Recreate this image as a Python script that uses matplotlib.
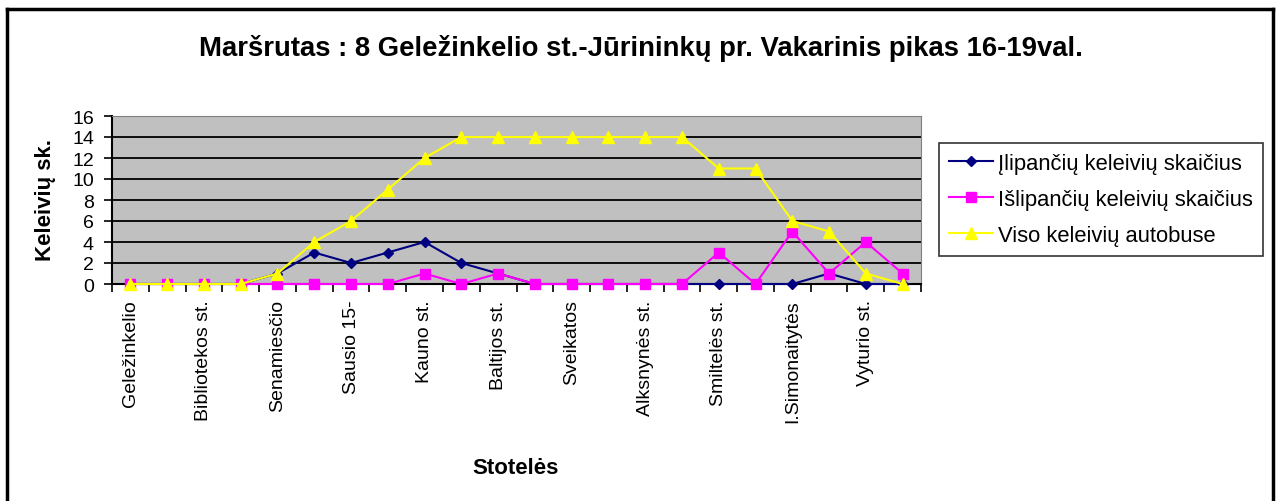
import matplotlib
matplotlib.use("Agg")
import matplotlib.pyplot as plt
from matplotlib.lines import Line2D
import numpy as np

plt.rcParams['font.family'] = ['Liberation Sans', 'DejaVu Sans']

# every other stop is labelled on the axis
stop_labels = ["Geležinkelio", "Bibliotekos st.", "Senamiesčio", "Sausio 15-",
               "Kauno st.", "Baltijos st.", "Sveikatos", "Alksnynės st.",
               "Smiltelės st.", "I.Simonaitytės", "Vyturio st."]

boarding = [0, 0, 0, 0, 1, 3, 2, 3, 4, 2, 1, 0, 0, 0, 0, 0, 0, 0, 0, 1, 0, 0]
alighting = [0, 0, 0, 0, 0, 0, 0, 0, 1, 0, 1, 0, 0, 0, 0, 0, 3, 0, 5, 1, 4, 1]
on_bus = [0, 0, 0, 0, 1, 4, 6, 9, 12, 14, 14, 14, 14, 14, 14, 14, 11, 11, 6, 5, 1, 0]

series_names = ["Įlipančių keleivių skaičius", "Išlipančių keleivių skaičius",
                "Viso keleivių autobuse"]

W, H = 1283, 502
fig = plt.figure(figsize=(W / 100, H / 100), dpi=100)

ax = fig.add_axes([112 / W, 1 - 285 / H, (921 - 112) / W, (285 - 117) / H])
ax.set_facecolor('#C0C0C0')

x = np.arange(len(on_bus))
ax.plot(x, boarding, color='#000080', marker='D', markersize=5.5, lw=1.5,
        label=series_names[0], zorder=3, clip_on=False)
ax.plot(x, alighting, color='#FF00FF', marker='s', markersize=6.5, lw=1.5,
        label=series_names[1], zorder=4, clip_on=False)
ax.plot(x, on_bus, color='#FFFF00', marker='^', markersize=8.5, lw=1.5,
        label=series_names[2], zorder=5, clip_on=False)

ax.set_xlim(-0.5, len(on_bus) - 0.5)
ax.set_ylim(0, 16)
ax.set_yticks(range(0, 17, 2))
for yv in range(2, 16, 2):
    ax.axhline(yv, color='black', lw=1.3, zorder=1)

ax.set_xticks(x[::2])
ax.set_xticklabels(stop_labels, rotation=90, va='top', fontsize=14)
ax.set_xticks(np.arange(-0.5, len(on_bus), 1), minor=True)
ax.tick_params(axis='x', which='major', length=0, pad=11)
ax.tick_params(axis='x', which='minor', length=6, width=1.2, direction='out')
ax.tick_params(axis='y', length=6, width=1.2, labelsize=14, pad=7)

for s in ['top', 'right']:
    ax.spines[s].set_color('#808080')
for s in ['left', 'bottom']:
    ax.spines[s].set_color('black')
    ax.spines[s].set_linewidth(1.5)

fig.text(45 / W, 1 - 200 / H, "Keleivių sk.", fontsize=16, fontweight='bold',
         rotation=90, ha='center', va='center')
fig.text(516 / W, 1 - 469 / H, "Stotelės", fontsize=16, fontweight='bold',
         ha='center', va='center')
fig.text(641 / W, 1 - 48 / H,
         "Maršrutas : 8 Geležinkelio st.-Jūrininkų pr. Vakarinis pikas 16-19val.",
         fontsize=19.8, fontweight='bold', ha='center', va='center')

leg = fig.legend(loc='upper left', bbox_to_anchor=(939 / W, 1 - 144 / H),
                 fontsize=15.8, frameon=True, fancybox=False, borderaxespad=0,
                 handlelength=2.0, handletextpad=0.25, labelspacing=0.68,
                 borderpad=0.45)
leg.get_frame().set_edgecolor('black')
leg.get_frame().set_linewidth(1.2)

# outer chart frame
fx0, fx1, fy = 7 / W, 1273 / W, 1 - 10 / H
for xs, ys in [([fx0, fx1], [fy, fy]), ([fx0, fx0], [fy, -0.1]), ([fx1, fx1], [fy, -0.1])]:
    fig.add_artist(Line2D(xs, ys, color='black', lw=2.5, transform=fig.transFigure))

fig.savefig("out.png", dpi=100)
